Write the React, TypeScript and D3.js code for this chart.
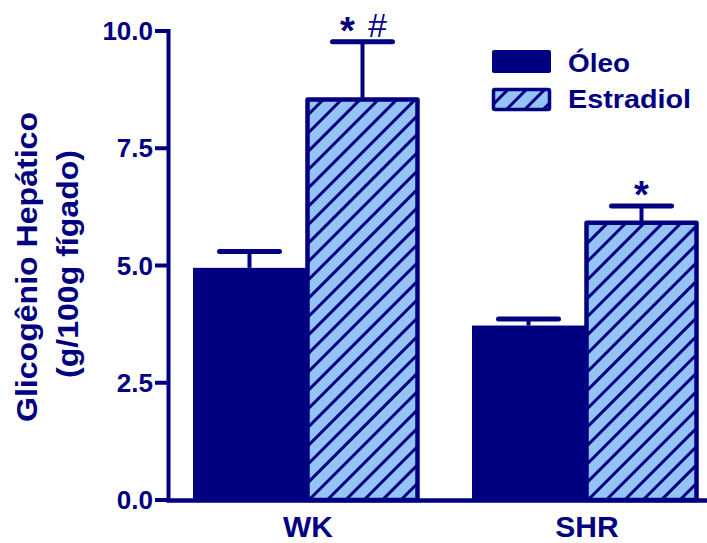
import React from "react";
import * as d3 from "d3";

// Hepatic glycogen by strain and treatment (mean and SEM)
const groups = ["WK", "SHR"];
const treatments = ["Óleo", "Estradiol"];
const oleoMeans = [4.95, 3.72];
const oleoSem = [0.35, 0.14];
const estradiolMeans = [8.54, 5.91];
const estradiolSem = [1.23, 0.36];
const estradiolMarks = [["*", "#"], ["*"]];
const yTicks = [0, 2.5, 5, 7.5, 10];
const yTickLabels = ["0.0", "2.5", "5.0", "7.5", "10.0"];

const W = 707;
const H = 543;
const NAVY = "#000080";
const LIGHT = "#96c3f5";
const FONT = "'Liberation Sans', Arial, Helvetica, sans-serif";

export default function App() {
  const y = d3.scaleLinear().domain([0, 10]).range([500, 31]);
  const x0 = d3
    .scaleBand<string>()
    .domain(groups)
    .range([170, 721])
    .paddingInner(0.19)
    .paddingOuter(0.0824);
  const x1 = d3.scaleBand<string>().domain(treatments).range([0, x0.bandwidth()]);
  const bw = x1.bandwidth();

  const series = [
    { key: treatments[0], means: oleoMeans, sem: oleoSem },
    { key: treatments[1], means: estradiolMeans, sem: estradiolSem },
  ];

  const capHalf = 30;

  return (
    <svg
      width={W}
      height={H}
      style={{ position: "absolute", left: 0, top: 0, background: "#fff" }}
      fontFamily={FONT}
    >
      <defs>
        <pattern
          id="hatch"
          patternUnits="userSpaceOnUse"
          width={13}
          height={13}
          patternTransform="rotate(45)"
        >
          <rect width={13} height={13} fill={LIGHT} />
          <line x1={6.5} y1={0} x2={6.5} y2={13} stroke={NAVY} strokeWidth={3} />
        </pattern>
      </defs>

      {/* bars */}
      {groups.map((g, gi) => (
        <g key={g} transform={`translate(${x0(g)},0)`}>
          {series.map((s, si) => {
            const bx = x1(s.key)!;
            const top = y(s.means[gi]);
            const cx = bx + bw / 2;
            const errTop = y(s.means[gi] + s.sem[gi]);
            return (
              <g key={s.key}>
                {/* error bar above the mean */}
                <line x1={cx} x2={cx} y1={top} y2={errTop} stroke={NAVY} strokeWidth={4} />
                <line
                  x1={cx - capHalf}
                  x2={cx + capHalf}
                  y1={errTop}
                  y2={errTop}
                  stroke={NAVY}
                  strokeWidth={5}
                  strokeLinecap="round"
                />
                {si === 0 ? (
                  <rect x={bx} y={top} width={bw} height={y(0) - top} fill={NAVY} />
                ) : (
                  <rect
                    x={bx + 1.5}
                    y={top}
                    width={bw - 3}
                    height={y(0) - top}
                    fill="url(#hatch)"
                    stroke={NAVY}
                    strokeWidth={4.5}
                    strokeLinejoin="round"
                  />
                )}
              </g>
            );
          })}
          {/* significance marks over the estradiol bar */}
          {estradiolMarks[gi].map((m, mi) => {
            const n = estradiolMarks[gi].length;
            const cx = x1(treatments[1])! + bw / 2 + (mi - (n - 1) / 2) * 30;
            const base = y(estradiolMeans[gi] + estradiolSem[gi]) - 5;
            return (
              <text
                key={mi}
                x={cx}
                y={m === "*" ? base + 7 : base}
                textAnchor="middle"
                fill={NAVY}
                fontSize={m === "*" ? 38 : 34}
                fontWeight={m === "*" ? "bold" : "normal"}
              >
                {m}
              </text>
            );
          })}
        </g>
      ))}

      {/* y axis */}
      <line x1={168.5} x2={168.5} y1={y(10) - 2} y2={y(0) + 2} stroke={NAVY} strokeWidth={4} />
      {yTicks.map((t, i) => (
        <g key={t}>
          <line x1={155} x2={168.5} y1={y(t)} y2={y(t)} stroke={NAVY} strokeWidth={4} />
          <text
            x={153}
            y={y(t)}
            textAnchor="end"
            dominantBaseline="central"
            fill={NAVY}
            fontSize={26}
            fontWeight="bold"
          >
            {yTickLabels[i]}
          </text>
        </g>
      ))}

      {/* x axis */}
      <line x1={166.5} x2={W} y1={y(0) + 0.5} y2={y(0) + 0.5} stroke={NAVY} strokeWidth={4.5} />
      {groups.map((g) => (
        <text
          key={g}
          x={x0(g)! + x0.bandwidth() / 2 + 2}
          y={536.5}
          textAnchor="middle"
          fill={NAVY}
          fontSize={30}
          fontWeight="bold"
        >
          {g}
        </text>
      ))}

      {/* y axis title */}
      <g fill={NAVY} fontWeight="bold" fontSize={29}>
        <text
          transform="translate(36.5,267) rotate(-90)"
          textAnchor="middle"
          textLength={310}
          lengthAdjust="spacingAndGlyphs"
        >
          Glicogênio Hepático
        </text>
        <text
          transform="translate(78,264) rotate(-90)"
          textAnchor="middle"
          textLength={228}
          lengthAdjust="spacingAndGlyphs"
        >
          (g/100g fígado)
        </text>
      </g>

      {/* legend */}
      <g>
        <rect x={492} y={50} width={59} height={23} rx={2} fill={NAVY} />
        <rect
          x={493.5}
          y={89.5}
          width={56}
          height={20}
          rx={1.5}
          fill="url(#hatch)"
          stroke={NAVY}
          strokeWidth={3.5}
        />
        <text
          x={568}
          y={71.5}
          fill={NAVY}
          fontSize={26}
          fontWeight="bold"
          textLength={62}
          lengthAdjust="spacingAndGlyphs"
        >
          {treatments[0]}
        </text>
        <text
          x={568}
          y={108}
          fill={NAVY}
          fontSize={26}
          fontWeight="bold"
          textLength={123}
          lengthAdjust="spacingAndGlyphs"
        >
          {treatments[1]}
        </text>
      </g>
    </svg>
  );
}
